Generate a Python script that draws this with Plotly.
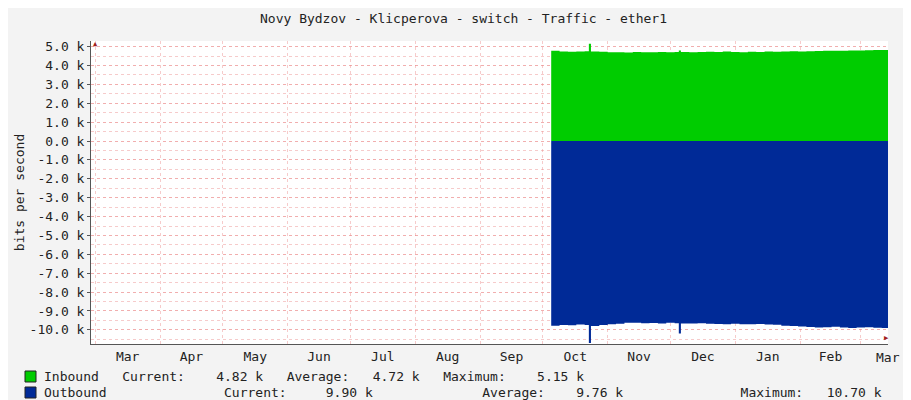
import plotly.graph_objects as go

# data in kbit/s, sampled roughly every 4 days (spikes added as extra points)
dates = ['2023-10-05', '2023-10-09', '2023-10-13', '2023-10-17', '2023-10-21', '2023-10-23',
         '2023-10-24', '2023-10-28', '2023-11-01', '2023-11-05', '2023-11-09', '2023-11-13',
         '2023-11-17', '2023-11-21', '2023-11-25', '2023-11-29', '2023-12-03', '2023-12-05',
         '2023-12-06', '2023-12-10', '2023-12-14', '2023-12-18', '2023-12-22', '2023-12-26',
         '2023-12-30', '2024-01-03', '2024-01-07', '2024-01-11', '2024-01-15', '2024-01-19',
         '2024-01-23', '2024-01-27', '2024-01-31', '2024-02-04', '2024-02-08', '2024-02-12',
         '2024-02-16', '2024-02-20', '2024-02-24', '2024-02-28', '2024-03-03', '2024-03-07',
         '2024-03-11', '2024-03-14']
inbound = [4.78, 4.75, 4.73, 4.74, 4.76, 5.15,
           4.74, 4.73, 4.71, 4.70, 4.69, 4.72,
           4.71, 4.70, 4.72, 4.71, 4.72, 4.80,
           4.72, 4.71, 4.72, 4.73, 4.72, 4.74,
           4.72, 4.71, 4.73, 4.72, 4.74, 4.73,
           4.75, 4.76, 4.75, 4.76, 4.77, 4.78,
           4.78, 4.79, 4.80, 4.80, 4.81, 4.82,
           4.82, 4.82]
outbound = [-9.78, -9.74, -9.76, -9.72, -9.75, -10.70,
            -9.80, -9.74, -9.70, -9.68, -9.62, -9.63,
            -9.65, -9.64, -9.66, -9.63, -9.65, -10.20,
            -9.66, -9.67, -9.65, -9.68, -9.69, -9.70,
            -9.68, -9.70, -9.71, -9.69, -9.72, -9.73,
            -9.78, -9.80, -9.82, -9.85, -9.88, -9.86,
            -9.84, -9.87, -9.90, -9.88, -9.86, -9.89,
            -9.90, -9.90]
in_stats = ['4.82 k', '4.72 k', '5.15 k']
out_stats = ['9.90 k', '9.76 k', '10.70 k']
y_ticks = [5, 4, 3, 2, 1, 0, -1, -2, -3, -4, -5, -6, -7, -8, -9, -10]
y_labels = ['%.1f k' % v for v in y_ticks]

FONT = 'DejaVu Sans Mono'
GRID = 'rgba(235,140,140,0.45)'


def columns(fields):
    # place each text at a fixed character column, like rrdtool's legend
    s = ''
    for col, txt in fields:
        s = s.ljust(col) + txt
    return s.replace(' ', '&nbsp;')


fig = go.Figure()
fig.add_trace(go.Scatter(x=dates, y=inbound, mode='lines', line=dict(width=0, shape='hv'),
                         fill='tozeroy', fillcolor='#00cc00', name='Inbound'))
fig.add_trace(go.Scatter(x=dates, y=outbound, mode='lines', line=dict(width=0, shape='hv'),
                         fill='tozeroy', fillcolor='#002a97', name='Outbound'))

fig.update_layout(
    width=911, height=400,
    margin=dict(l=83, r=31, t=33, b=64, autoexpand=False),
    paper_bgcolor='#f3f3f3', plot_bgcolor='white',
    showlegend=False,
    font=dict(family=FONT, size=13, color='#222'),
    title=dict(text='Novy Bydzov - Klicperova - switch - Traffic - ether1',
               x=0.5, y=0.985, yanchor='top', font=dict(size=13)),
    xaxis=dict(type='date', range=['2023-02-27', '2024-03-14'], automargin=False,
               tick0='2023-03-01', dtick='M1', tickformat='%b', ticklabelmode='period',
               showgrid=True, gridcolor=GRID, griddash='dot', gridwidth=1,
               showline=True, linecolor='#555', ticks='', zeroline=False,
               tickfont=dict(size=13)),
    yaxis=dict(range=[-10.75, 5.3], tickvals=y_ticks, ticktext=y_labels, automargin=False,
               showgrid=True, gridcolor=GRID, griddash='dot',
               minor=dict(dtick=0.5, showgrid=True, gridcolor=GRID, griddash='dot'),
               showline=True, linecolor='#555', ticks='outside', ticklen=3,
               tickcolor='#555', zeroline=False, tickfont=dict(size=13),
               title=dict(text='bits per second', font=dict(size=13), standoff=2)),
)

fig.add_annotation(text='Mar', xref='paper', yref='paper', x=1, xanchor='center', xshift=0,
                   y=0, yanchor='top', yshift=-4, showarrow=False, font=dict(size=13))
fig.add_annotation(text='RRDTOOL / TOBI OETIKER', textangle=90, xref='paper', yref='paper',
                   x=1.0, xanchor='left', xshift=15, y=1.0, yanchor='top', showarrow=False,
                   font=dict(size=7, color='#aaa'))
fig.add_annotation(text='\u25b2', xref='paper', yref='paper', x=0, y=1, yshift=3,
                   showarrow=False, font=dict(size=7, color='#a02020'))
fig.add_annotation(text='\u25b6', xref='paper', yref='paper', x=1, y=0, xshift=3,
                   showarrow=False, font=dict(size=7, color='#a02020'))

rows = [
    ('#00cc00', [(0, 'Inbound'), (10, 'Current:'), (22, in_stats[0]), (31, 'Average:'),
                 (42, in_stats[1]), (51, 'Maximum:'), (63, in_stats[2])]),
    ('#002a97', [(0, 'Outbound'), (23, 'Current:'), (36, out_stats[0]), (56, 'Average:'),
                 (68, out_stats[1]), (89, 'Maximum:'), (100, out_stats[2])]),
]
for i, (col, fields) in enumerate(rows):
    ypix = 368 + i * 16
    fig.add_shape(type='rect', xref='paper', yref='paper',
                  x0=(17 - 83) / 797, x1=(28 - 83) / 797,
                  y0=(336 - ypix + 5) / 303, y1=(336 - ypix - 6) / 303,
                  fillcolor=col, line=dict(color='#222', width=1))
    fig.add_annotation(text=columns(fields), xref='paper', yref='paper',
                       x=(34 - 83) / 797, xanchor='left', y=(336 - ypix) / 303, yanchor='middle',
                       showarrow=False, font=dict(size=13))

fig.write_html('out.html')
